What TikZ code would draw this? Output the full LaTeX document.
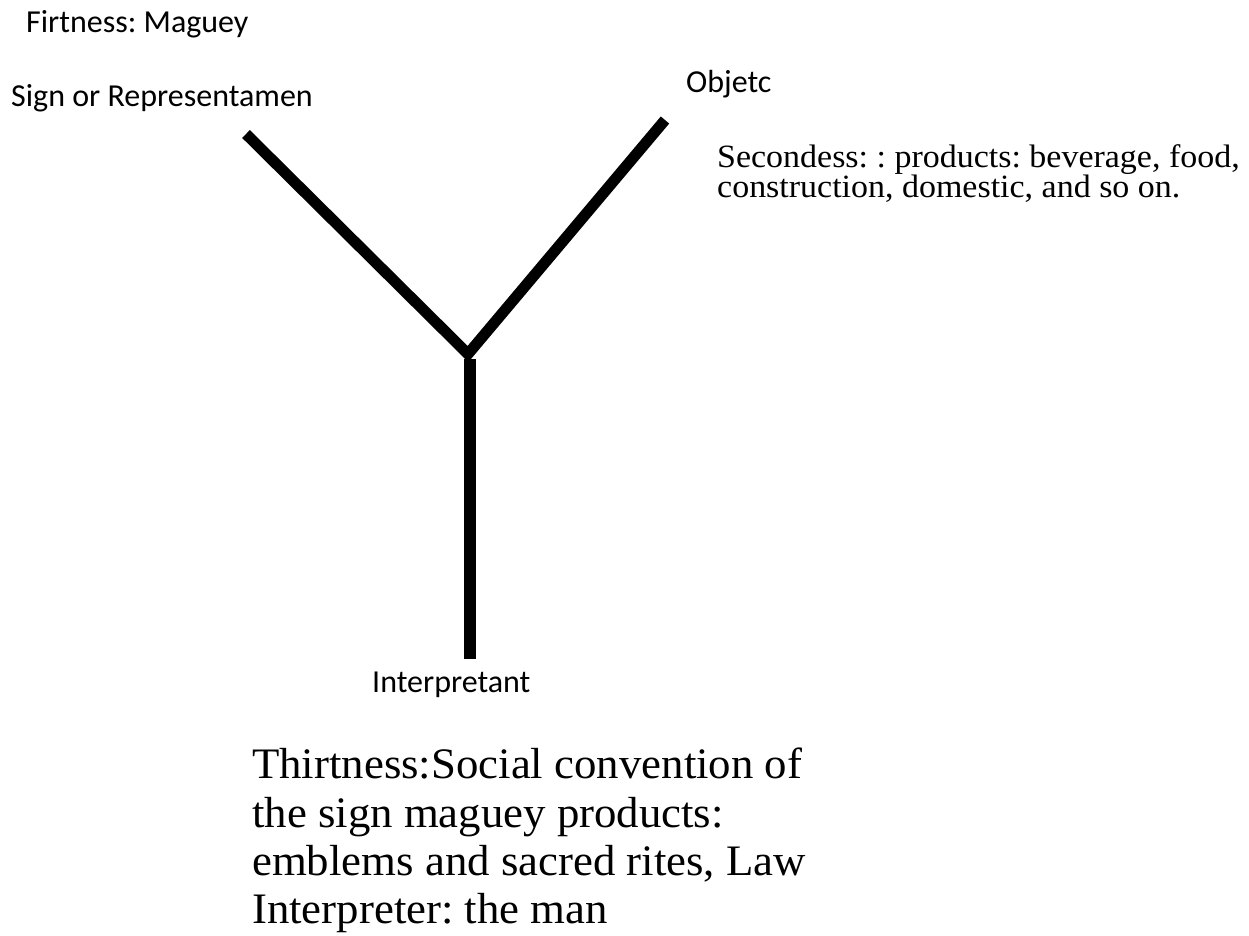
\documentclass[tikz,border=0pt]{standalone}
\usepackage{fontspec}
\setmainfont{Carlito}
\newfontfamily\cambriaA[FakeStretch=1.03]{Liberation Serif}
\newfontfamily\cambriaB[FakeStretch=1.045]{Liberation Serif}
\frenchspacing
\tikzset{
  lbl/.style={inner sep=0pt, anchor=base west, font=\fontsize{32bp}{38bp}\selectfont},
  note/.style={inner sep=0pt, anchor=north west, align=left},
  bar/.style={line width=11bp, line join=miter, black}
}
\begin{document}
\begin{tikzpicture}[x=1bp,y=-1bp]
\useasboundingbox (0,0) rectangle (1249,936);
\node[lbl] (first) at (26,32) {Firtness: Maguey};
\node[lbl] (sign) at (11,106) {Sign or Representamen};
\node[lbl] (obj) at (686,92) {Objetc};
\node[lbl] (interp) at (372,692) {Interpretant};
\node[note, font=\cambriaB\fontsize{32.5bp}{30bp}\selectfont] (second) at (717,144)
  {Secondess: : products: beverage, food,\\construction, domestic, and so on.};
\node[note, font=\cambriaA\fontsize{43.5bp}{48.3bp}\selectfont] (third) at (252,748)
  {Thirtness:Social convention of\\the sign maguey products:\\emblems and sacred rites, Law\\Interpreter: the man};
\coordinate (s) at (246,134);
\coordinate (o) at (665,120);
\coordinate (j) at (468,354);
\coordinate (jt) at (470,359);
\coordinate (i) at (470,659);
\draw[bar] (s) -- (j) -- (o);
\draw[bar, line width=12bp] (jt) -- (i);
\end{tikzpicture}
\end{document}
